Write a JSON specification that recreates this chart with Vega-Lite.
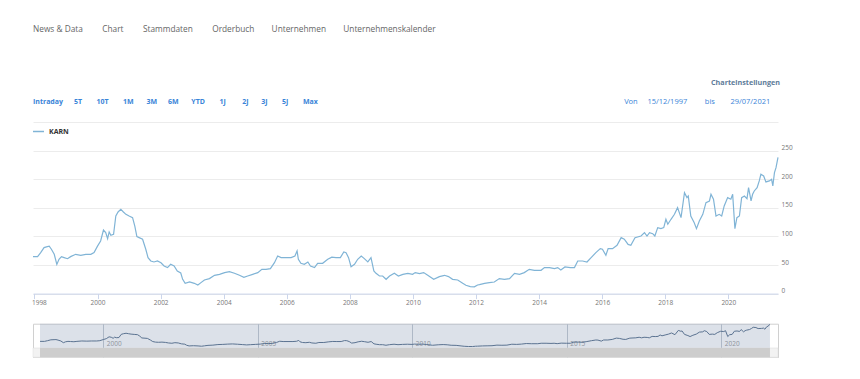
{
  "$schema": "https://vega.github.io/schema/vega-lite/v6.json",
  "padding": {"left": 30, "top": 24, "right": 0, "bottom": 0},
  "background": "white",
  "config": {"view": {"stroke": null}, "font": "Open Sans"},
  "datasets": {
    "karn": [
      {"date":"1997-12-15","value":64.6},{"date":"1998-02-06","value":64.6},{"date":"1998-03-14","value":71.6},{"date":"1998-04-22","value":80.4},{"date":"1998-05-30","value":82.0},{"date":"1998-06-21","value":83.0},{"date":"1998-07-16","value":77.5},{"date":"1998-08-18","value":68.7},{"date":"1998-09-17","value":51.0},{"date":"1998-10-12","value":60.0},{"date":"1998-11-10","value":64.6},{"date":"1998-12-10","value":63.0},
      {"date":"1999-01-19","value":61.0},{"date":"1999-02-24","value":64.6},{"date":"1999-04-23","value":68.7},{"date":"1999-06-21","value":67.0},{"date":"1999-08-18","value":68.7},{"date":"1999-10-16","value":68.7},{"date":"1999-11-22","value":71.6},
      {"date":"2000-01-01","value":83.0},{"date":"2000-02-06","value":92.0},{"date":"2000-03-10","value":111.0},{"date":"2000-04-05","value":106.6},{"date":"2000-04-27","value":96.0},{"date":"2000-05-15","value":107.8},{"date":"2000-06-03","value":102.0},{"date":"2000-07-05","value":103.7},{"date":"2000-07-31","value":135.7},{"date":"2000-08-26","value":142.7},{"date":"2000-09-27","value":147.4},{"date":"2000-10-27","value":142.7},{"date":"2000-11-25","value":138.6},
      {"date":"2001-01-01","value":135.7},{"date":"2001-02-10","value":132.8},{"date":"2001-03-08","value":118.0},{"date":"2001-04-01","value":99.6},{"date":"2001-04-27","value":97.8},{"date":"2001-06-06","value":95.0},{"date":"2001-07-13","value":77.5},{"date":"2001-08-08","value":62.9},{"date":"2001-09-09","value":57.0},{"date":"2001-10-16","value":55.3},{"date":"2001-11-25","value":57.0},
      {"date":"2002-01-05","value":54.0},{"date":"2002-02-10","value":48.3},{"date":"2002-03-22","value":45.4},{"date":"2002-04-27","value":51.2},{"date":"2002-06-06","value":48.3},{"date":"2002-07-13","value":39.5},{"date":"2002-08-22","value":36.0},{"date":"2002-09-13","value":25.0},{"date":"2002-10-12","value":18.0},{"date":"2002-12-02","value":20.3},
      {"date":"2003-01-26","value":18.0},{"date":"2003-03-08","value":15.0},{"date":"2003-04-13","value":19.2},{"date":"2003-05-23","value":23.8},{"date":"2003-07-20","value":26.2},{"date":"2003-09-17","value":32.0},{"date":"2003-11-14","value":33.7},
      {"date":"2004-01-12","value":36.7},{"date":"2004-03-08","value":38.4},{"date":"2004-05-05","value":35.5},{"date":"2004-07-02","value":32.0},{"date":"2004-08-22","value":28.5},{"date":"2004-10-05","value":30.8},{"date":"2004-12-02","value":33.7},
      {"date":"2005-01-30","value":36.7},{"date":"2005-03-18","value":42.5},{"date":"2005-05-05","value":42.5},{"date":"2005-06-25","value":43.7},{"date":"2005-08-11","value":54.0},{"date":"2005-09-17","value":65.8},{"date":"2005-10-27","value":62.9},{"date":"2005-12-24","value":62.9},
      {"date":"2006-02-20","value":62.9},{"date":"2006-04-05","value":65.8},{"date":"2006-04-30","value":74.5},{"date":"2006-05-15","value":60.0},{"date":"2006-06-13","value":53.0},{"date":"2006-07-23","value":51.2},{"date":"2006-09-02","value":55.3},{"date":"2006-10-02","value":48.3},{"date":"2006-11-18","value":45.4},{"date":"2006-12-24","value":53.0},
      {"date":"2007-02-20","value":53.0},{"date":"2007-04-20","value":60.0},{"date":"2007-06-06","value":63.7},{"date":"2007-07-24","value":62.9},{"date":"2007-09-13","value":62.9},{"date":"2007-10-23","value":72.8},{"date":"2007-11-18","value":71.6},{"date":"2007-12-17","value":62.9},
      {"date":"2008-01-15","value":47.1},{"date":"2008-02-24","value":51.2},{"date":"2008-04-01","value":60.0},{"date":"2008-05-12","value":65.8},{"date":"2008-06-17","value":61.1},{"date":"2008-07-27","value":55.3},{"date":"2008-09-02","value":62.9},{"date":"2008-10-05","value":39.6},{"date":"2008-10-30","value":35.5},{"date":"2008-12-09","value":30.8},
      {"date":"2009-01-15","value":30.8},{"date":"2009-02-24","value":25.0},{"date":"2009-04-05","value":30.8},{"date":"2009-05-30","value":35.5},{"date":"2009-07-16","value":30.8},{"date":"2009-09-06","value":33.7},{"date":"2009-11-03","value":35.5},{"date":"2009-12-28","value":33.7},
      {"date":"2010-01-27","value":36.7},{"date":"2010-03-18","value":35.0},{"date":"2010-05-05","value":36.7},{"date":"2010-06-21","value":32.0},{"date":"2010-08-29","value":25.0},{"date":"2010-11-03","value":29.7},
      {"date":"2011-01-01","value":32.0},{"date":"2011-02-17","value":29.7},{"date":"2011-04-05","value":25.0},{"date":"2011-06-03","value":23.8},{"date":"2011-07-31","value":18.0},{"date":"2011-09-06","value":14.5},{"date":"2011-10-27","value":12.2},{"date":"2011-12-13","value":11.8},
      {"date":"2012-01-19","value":15.1},{"date":"2012-02-10","value":15.7},{"date":"2012-04-09","value":18.0},{"date":"2012-06-03","value":19.2},{"date":"2012-07-31","value":20.3},{"date":"2012-09-27","value":26.2},{"date":"2012-11-25","value":25.0},
      {"date":"2013-01-23","value":26.2},{"date":"2013-03-22","value":35.5},{"date":"2013-05-19","value":33.7},{"date":"2013-07-13","value":36.7},{"date":"2013-09-09","value":42.5},{"date":"2013-11-07","value":40.7},
      {"date":"2014-01-23","value":40.7},{"date":"2014-03-04","value":45.4},{"date":"2014-05-01","value":45.4},{"date":"2014-06-28","value":43.7},{"date":"2014-08-04","value":45.4},{"date":"2014-09-09","value":41.3},{"date":"2014-10-27","value":46.6},{"date":"2014-12-28","value":45.4},
      {"date":"2015-02-14","value":45.4},{"date":"2015-03-24","value":57.0},{"date":"2015-05-19","value":57.0},{"date":"2015-07-09","value":55.3},{"date":"2015-08-26","value":62.9},{"date":"2015-10-20","value":71.6},{"date":"2015-12-10","value":78.6},
      {"date":"2016-01-04","value":77.5},{"date":"2016-02-13","value":67.0},{"date":"2016-03-10","value":78.6},{"date":"2016-04-30","value":78.6},{"date":"2016-06-21","value":84.4},{"date":"2016-08-08","value":97.8},{"date":"2016-09-13","value":95.0},{"date":"2016-10-27","value":86.0},{"date":"2016-11-28","value":84.4},
      {"date":"2017-01-15","value":97.8},{"date":"2017-03-26","value":100.7},{"date":"2017-05-05","value":106.6},{"date":"2017-06-03","value":100.7},{"date":"2017-07-02","value":106.6},{"date":"2017-08-08","value":104.8},{"date":"2017-09-02","value":100.7},{"date":"2017-10-05","value":115.3},{"date":"2017-11-11","value":113.6},{"date":"2017-12-14","value":115.3},
      {"date":"2018-01-08","value":129.9},{"date":"2018-01-30","value":121.2},{"date":"2018-03-08","value":129.9},{"date":"2018-04-17","value":138.6},{"date":"2018-05-23","value":150.3},{"date":"2018-07-02","value":132.8},{"date":"2018-08-11","value":176.5},{"date":"2018-09-09","value":167.8},{"date":"2018-09-24","value":170.7},{"date":"2018-10-23","value":135.7},{"date":"2018-12-02","value":124.0},{"date":"2018-12-28","value":113.6},
      {"date":"2019-01-30","value":127.0},{"date":"2019-03-11","value":138.6},{"date":"2019-04-17","value":159.0},{"date":"2019-05-27","value":161.9},{"date":"2019-06-14","value":173.6},{"date":"2019-07-13","value":164.9},{"date":"2019-08-11","value":135.7},{"date":"2019-09-17","value":138.6},{"date":"2019-10-16","value":135.7},{"date":"2019-11-14","value":153.2},{"date":"2019-12-24","value":167.8},
      {"date":"2020-01-30","value":164.9},{"date":"2020-02-20","value":173.6},{"date":"2020-03-17","value":113.6},{"date":"2020-04-09","value":132.8},{"date":"2020-05-08","value":135.7},{"date":"2020-06-03","value":167.8},{"date":"2020-07-05","value":170.7},{"date":"2020-08-04","value":166.0},{"date":"2020-08-22","value":185.3},{"date":"2020-09-20","value":162.0},{"date":"2020-10-08","value":173.6},{"date":"2020-10-27","value":179.4},{"date":"2020-11-29","value":185.3},{"date":"2020-12-24","value":197.0},
      {"date":"2021-01-12","value":208.6},{"date":"2021-02-13","value":205.7},{"date":"2021-03-11","value":195.2},{"date":"2021-04-20","value":197.0},{"date":"2021-05-16","value":199.8},{"date":"2021-05-30","value":188.2},{"date":"2021-06-18","value":211.5},{"date":"2021-07-06","value":220.2},{"date":"2021-07-29","value":238.0}
    ]
  },
  "spacing": 12,
  "vconcat": [
    {
      "spacing": 0,
      "hconcat": [
        {
          "width": 460, "height": 1,
          "data": {"values": []},
          "mark": "point",
          "title": {
            "text": "News & Data\u00a0\u00a0\u00a0\u00a0\u00a0\u00a0\u00a0\u00a0\u00a0Chart\u00a0\u00a0\u00a0\u00a0\u00a0\u00a0\u00a0\u00a0\u00a0Stammdaten\u00a0\u00a0\u00a0\u00a0\u00a0\u00a0\u00a0\u00a0\u00a0Orderbuch\u00a0\u00a0\u00a0\u00a0\u00a0\u00a0\u00a0\u00a0Unternehmen\u00a0\u00a0\u00a0\u00a0\u00a0\u00a0\u00a0\u00a0Unternehmenskalender",
            "subtitle": "Intraday\u00a0\u00a0\u00a0\u00a0\u00a0\u00a05T\u00a0\u00a0\u00a0\u00a0\u00a0\u00a0\u00a0\u00a010T\u00a0\u00a0\u00a0\u00a0\u00a0\u00a0\u00a0\u00a01M\u00a0\u00a0\u00a0\u00a0\u00a0\u00a0\u00a03M\u00a0\u00a0\u00a0\u00a0\u00a0\u00a06M\u00a0\u00a0\u00a0\u00a0\u00a0\u00a0\u00a0YTD\u00a0\u00a0\u00a0\u00a0\u00a0\u00a0\u00a0\u00a01J\u00a0\u00a0\u00a0\u00a0\u00a0\u00a0\u00a0\u00a0\u00a02J\u00a0\u00a0\u00a0\u00a0\u00a0\u00a0\u00a03J\u00a0\u00a0\u00a0\u00a0\u00a0\u00a0\u00a0\u00a05J\u00a0\u00a0\u00a0\u00a0\u00a0\u00a0\u00a0\u00a0Max",
            "anchor": "start", "dx": 0, "offset": 4,
            "font": "Open Sans", "fontSize": 8.3, "fontWeight": "normal", "color": "#666666",
            "subtitleFont": "Open Sans", "subtitleFontSize": 7, "subtitleFontWeight": "bold", "subtitleColor": "#3a84d8",
            "subtitlePadding": 65
          }
        },
        {
          "width": 287, "height": 1,
          "data": {"values": []},
          "mark": "point",
          "title": {
            "text": "Charteinstellungen",
            "subtitle": "Von\u00a0\u00a0\u00a0\u00a0\u00a015/12/1997\u00a0\u00a0\u00a0\u00a0\u00a0\u00a0\u00a0\u00a0\u00a0bis\u00a0\u00a0\u00a0\u00a0\u00a0\u00a0\u00a0\u00a029/07/2021\u00a0\u00a0\u00a0\u00a0\u00a0\u200b",
            "anchor": "end", "offset": 4,
            "font": "Open Sans", "fontSize": 7.2, "fontWeight": "bold", "color": "#5d7b99",
            "subtitleFont": "Open Sans", "subtitleFontSize": 7.5, "subtitleFontWeight": "normal", "subtitleColor": "#3a84d8",
            "subtitlePadding": 11
          }
        }
      ]
    },
    {
      "spacing": 29.7,
      "bounds": "flush",
      "vconcat": [
        {
          "data": {"name": "karn"},
          "width": 745, "height": 171.6,
          "mark": {"type": "line", "strokeWidth": 1.2},
          "encoding": {
            "x": {
              "field": "date", "type": "temporal",
              "scale": {"domain": [{"year": 1997, "month": 12, "date": 15}, {"year": 2021, "month": 7, "date": 29}]},
              "axis": {"title": null, "format": "%Y", "tickCount": {"interval": "year", "step": 2}, "grid": false,
                       "domainColor": "#ccd6eb", "tickColor": "#ccd6eb", "tickSize": 5, "labelFont": "Open Sans",
                       "labelFontSize": 6.5, "labelColor": "#777777", "labelPadding": 1, "labelFlush": 3, "labelFlushOffset": 3}
            },
            "y": {
              "field": "value", "type": "quantitative",
              "scale": {"domain": [0, 300], "nice": false},
              "axis": {"orient": "right", "title": null, "values": [0, 50, 100, 150, 200, 250, 300],
                       "labelExpr": "datum.value == 300 ? '' : datum.label", "domain": false, "ticks": false,
                       "gridColor": "#ececec", "labelAlign": "left", "labelPadding": 3, "labelBaseline": "bottom",
                       "labelFont": "Open Sans", "labelFontSize": 6.5, "labelColor": "#777777"}
            },
            "color": {
              "datum": "KARN",
              "scale": {"range": ["#80b4d6"]},
              "legend": {"orient": "none", "legendX": -1, "legendY": 16, "title": null, "padding": 0, "symbolType": "stroke",
                         "symbolSize": 121, "symbolStrokeWidth": 1.5, "labelFont": "Open Sans", "labelFontSize": 7,
                         "labelFontWeight": "bold", "labelColor": "#333333", "labelOffset": 4}
            }
          }
        },
        {
          "width": 745, "height": 33.5,
          "view": {"stroke": "#d0d0d0"},
          "layer": [
            {
              "data": {"values": [{}]},
              "mark": {"type": "rect", "fill": "#9aa9bf", "fillOpacity": 0.35},
              "encoding": {
                "x": {"datum": {"year": 1997, "month": 12, "date": 15}, "type": "temporal",
                      "scale": {"domain": [{"year": 1997, "month": 9, "date": 23}, {"year": 2021, "month": 11, "date": 1}]},
                      "axis": {"title": null, "orient": "bottom", "grid": true, "gridColor": "#b9c0ca", "domain": false,
                               "ticks": false, "format": "%Y", "tickCount": {"interval": "year", "step": 5},
                               "labelAlign": "left", "labelOffset": 3, "labelPadding": -12, "labelBaseline": "alphabetic",
                               "labelFont": "Open Sans", "labelFontSize": 6.5, "labelColor": "#888888", "labelFlush": false}},
                "x2": {"datum": {"year": 2021, "month": 7, "date": 29}},
                "y": {"datum": 245, "type": "quantitative", "scale": {"domain": [-97, 245], "nice": false, "zero": false}, "axis": null},
                "y2": {"datum": -3}
              }
            },
            {
              "data": {"values": [{}]},
              "mark": {"type": "rect", "fill": "#f2f2f2", "stroke": "#dddddd", "strokeWidth": 0.5},
              "encoding": {
                "y": {"datum": -3, "type": "quantitative", "axis": null},
                "y2": {"datum": -97}
              }
            },
            {
              "data": {"values": [{}]},
              "mark": {"type": "rect", "fill": "#cdcdcd"},
              "encoding": {
                "x": {"datum": {"year": 1997, "month": 12, "date": 15}, "type": "temporal", "title": null},
                "x2": {"datum": {"year": 2021, "month": 7, "date": 29}},
                "y": {"datum": -3, "type": "quantitative", "axis": null},
                "y2": {"datum": -97}
              }
            },
            {
              "data": {"name": "karn"},
              "mark": {"type": "line", "stroke": "#5b7391", "strokeWidth": 1},
              "encoding": {
                "x": {"field": "date", "type": "temporal", "title": null},
                "y": {"field": "value", "type": "quantitative", "axis": null}
              }
            }
          ]
        }
      ]
    }
  ]
}
